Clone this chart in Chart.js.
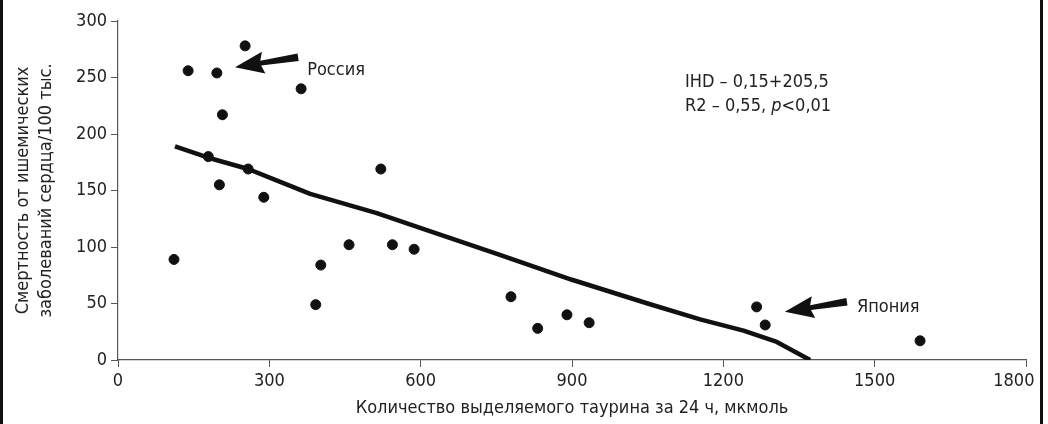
<!DOCTYPE html>
<html>
<head>
<meta charset="utf-8">
<script src="https://cdn.jsdelivr.net/npm/chart.js@4"></script>
<style>
  html, body { margin: 0; padding: 0; background: #fff; }
  #wrap { position: relative; width: 1048px; height: 424px; overflow: hidden; background: #fff; }
  #c { position: absolute; left: 0; top: 0; }
  .bl { position: absolute; top: 0; bottom: 0; width: 3px; background: #111; }
</style>
</head>
<body>
<div id="wrap">
  <canvas id="c" width="1048" height="424"></canvas>
  <div class="bl" style="left:0"></div>
  <div class="bl" style="left:1040px"></div>
</div>
<script>
// ---- Data ----
const taurineX = [111, 139, 179, 196, 201, 207, 252, 258, 289, 363, 392, 402, 458, 521, 544, 587, 779, 832, 890, 934, 1266, 1283, 1590];
const mortalityY = [89, 256, 180, 254, 155, 217, 278, 169, 144, 240, 49, 84, 102, 169, 102, 98, 56, 28, 40, 33, 47, 31, 17];
const trendX = [113, 179, 258, 308, 381, 513, 599, 757, 900, 1050, 1154, 1240, 1306, 1372];
const trendY = [189, 179, 169, 160, 147, 130, 117, 93, 71, 50, 36, 26, 16, 0];
const xTickValues = [0, 300, 600, 900, 1200, 1500, 1800];
const yTickValues = [0, 50, 100, 150, 200, 250, 300];
const xTitle = 'Количество выделяемого таурина за 24 ч, мкмоль';
const yTitle = ['Смертность от ишемических', 'заболеваний сердца/100 тыс.'];
// Annotations (data coordinates)
const arrowLabels = ['Россия', 'Япония'];
const arrowTailX = [357, 1445];
const arrowTailY = [268, 51.5];
const arrowTipX = [232, 1322];
const arrowTipY = [259, 42.6];
const labelX = [375, 1465];
const labelY = [256, 47];
const statLines = [['IHD – 0,15+205,5'], ['R2 – 0,55, ', 'p', '<0,01']];
const statX = 1124;
const statY = [246, 224.5];

const FONT = "'Liberation Sans Narrow', 'DejaVu Sans Condensed', 'Liberation Sans', sans-serif";
const FS = 18;
const TXT = '#222';
const AX = '#555';

const points = taurineX.map((x, i) => ({ x: x, y: mortalityY[i] }));
const trend = trendX.map((x, i) => ({ x: x, y: trendY[i] }));

const annotate = {
  id: 'annotate',
  afterDatasetsDraw(chart) {
    const ctx = chart.ctx;
    const xs = chart.scales.x, ys = chart.scales.y;
    ctx.save();
    for (let i = 0; i < arrowLabels.length; i++) {
      const tx = xs.getPixelForValue(arrowTailX[i]), ty = ys.getPixelForValue(arrowTailY[i]);
      const hx = xs.getPixelForValue(arrowTipX[i]), hy = ys.getPixelForValue(arrowTipY[i]);
      const ang = Math.atan2(hy - ty, hx - tx);
      const len = Math.hypot(hx - tx, hy - ty);
      const headLen = 26, headW = 11, shaftW0 = 3.8, shaftW1 = 2.4;
      ctx.save();
      ctx.translate(tx, ty);
      ctx.rotate(ang);
      ctx.beginPath();
      ctx.moveTo(0, -shaftW0);
      ctx.lineTo(len - headLen, -shaftW1);
      ctx.lineTo(len - headLen - 3, -headW);
      ctx.lineTo(len, 0);
      ctx.lineTo(len - headLen - 3, headW);
      ctx.lineTo(len - headLen, shaftW1);
      ctx.lineTo(0, shaftW0);
      ctx.closePath();
      ctx.fillStyle = '#111';
      ctx.fill();
      ctx.restore();
      ctx.fillStyle = TXT;
      ctx.font = FS + 'px ' + FONT;
      ctx.textBaseline = 'middle';
      ctx.textAlign = 'left';
      ctx.fillText(arrowLabels[i], xs.getPixelForValue(labelX[i]), ys.getPixelForValue(labelY[i]));
    }
    ctx.fillStyle = TXT;
    ctx.textBaseline = 'middle';
    ctx.textAlign = 'left';
    for (let l = 0; l < statLines.length; l++) {
      let x = xs.getPixelForValue(statX);
      const y = ys.getPixelForValue(statY[l]);
      statLines[l].forEach((part) => {
        ctx.font = (part === 'p' ? 'italic ' : '') + FS + 'px ' + FONT;
        ctx.fillText(part, x, y);
        x += ctx.measureText(part).width;
      });
    }
    ctx.restore();
  }
};

new Chart(document.getElementById('c'), {
  type: 'scatter',
  data: {
    datasets: [
      {
        data: points,
        backgroundColor: '#111',
        borderColor: '#111',
        pointRadius: 5,
        pointHoverRadius: 5,
        showLine: false,
        order: 1
      },
      {
        data: trend,
        showLine: true,
        borderColor: '#111',
        borderWidth: 4.5,
        borderJoinStyle: 'round',
        pointRadius: 0,
        tension: 0,
        fill: false,
        order: 2
      }
    ]
  },
  options: {
    responsive: false,
    animation: false,
    events: [],
    layout: { padding: { left: 0, top: 21, right: 0, bottom: 0 } },
    plugins: { legend: { display: false }, tooltip: { enabled: false } },
    scales: {
      x: {
        type: 'linear',
        min: 0, max: 1800,
        afterBuildTicks: (s) => { s.ticks = xTickValues.map(v => ({ value: v })); },
        afterFit: (s) => { s.height = 64; s.paddingRight = 22; s.paddingLeft = 0; },
        border: { display: true, color: AX, width: 1.2 },
        grid: { display: true, drawOnChartArea: false, drawTicks: true, tickLength: 7, color: AX, tickColor: AX },
        ticks: {
          color: TXT, font: { family: FONT, size: FS }, padding: 4, maxRotation: 0,
          callback: (v, i, arr) => (i === arr.length - 1 ? String(v) + '\u2003\u2002' : String(v))
        },
        title: { display: true, text: xTitle, color: TXT, font: { family: FONT, size: FS }, padding: { top: 0, bottom: 5 } }
      },
      y: {
        type: 'linear',
        min: 0, max: 300,
        afterBuildTicks: (s) => { s.ticks = yTickValues.map(v => ({ value: v })); },
        afterFit: (s) => { s.width = 118; },
        border: { display: true, color: AX, width: 1.2 },
        grid: { display: true, drawOnChartArea: false, drawTicks: true, tickLength: 7, color: AX, tickColor: AX },
        ticks: { color: TXT, font: { family: FONT, size: FS }, padding: 4, callback: (v) => String(v) },
        title: { display: true, text: yTitle, color: TXT, font: { family: FONT, size: FS, lineHeight: 1.28 }, padding: { top: 12, bottom: 0 } }
      }
    }
  },
  plugins: [annotate]
});
</script>
</body>
</html>
